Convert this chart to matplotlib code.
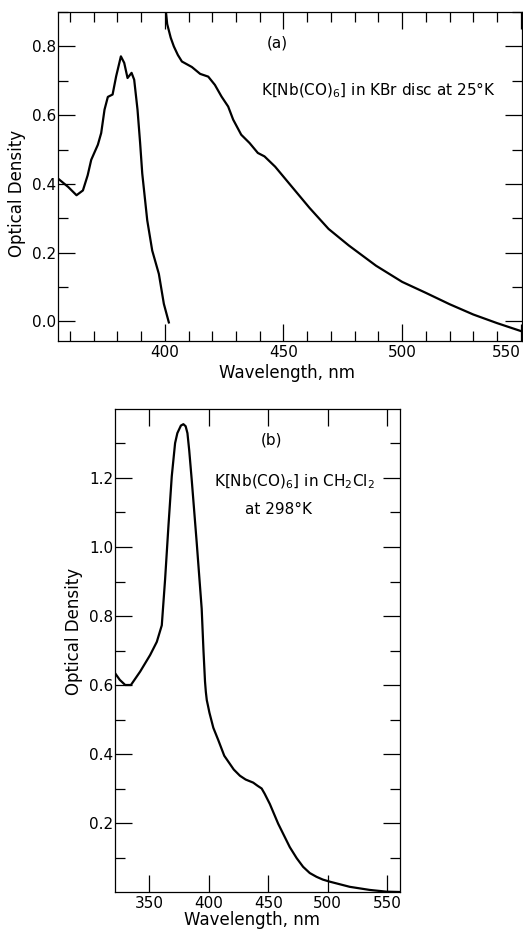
import matplotlib
matplotlib.use("Agg")
import matplotlib.pyplot as plt
from matplotlib.ticker import MultipleLocator, FixedLocator

# ---- data: panel (a) K[Nb(CO)6] in KBr disc at 25 K ----
a1_wavelength = [355.1, 359.3, 362.8, 365.5, 367.5, 369.0, 371.8, 373.2, 374.6, 376.0,
                 378.0, 379.5, 381.5, 382.9, 384.3, 386.0, 387.1, 388.5, 389.6, 390.5,
                 392.6, 394.7, 397.5, 399.6, 401.7]
a1_density = [0.415, 0.391, 0.367, 0.381, 0.425, 0.470, 0.514, 0.548, 0.616, 0.653,
              0.660, 0.713, 0.771, 0.752, 0.708, 0.723, 0.703, 0.616, 0.519, 0.430,
              0.294, 0.206, 0.138, 0.051, -0.003]

a2_wavelength = [399.8, 400.2, 401.0, 402.5, 403.8, 405.5, 407.2, 411.4, 414.9, 418.3,
                 421.1, 423.9, 426.7, 428.8, 432.2, 435.7, 439.2, 442.0, 446.5, 453.5,
                 461.0, 469.0, 477.5, 489.0, 500.0, 510.0, 520.0, 530.0, 540.0, 550.0]
a2_density = [0.950, 0.920, 0.865, 0.825, 0.800, 0.775, 0.756, 0.740, 0.720, 0.712,
              0.688, 0.654, 0.625, 0.587, 0.543, 0.519, 0.490, 0.480, 0.450, 0.392,
              0.330, 0.269, 0.221, 0.162, 0.115, 0.083, 0.050, 0.020, -0.005, -0.028]

# ---- data: panel (b) K[Nb(CO)6] in CH2Cl2 at 298 K ----
b_wavelength = [321.1, 325.0, 329.6, 334.4, 342.2, 350.6, 356.2, 360.4, 363.2, 366.0,
                368.8, 371.6, 373.5, 376.5, 378.6, 380.5, 382.0, 383.5, 385.6, 389.8,
                394.0, 395.5, 396.8, 397.5, 398.3, 399.3, 400.5, 403.8, 408.0, 413.0,
                421.0, 426.2, 431.0, 437.4, 441.0, 444.5, 447.0, 451.4, 458.4, 468.2,
                474.0, 479.4, 485.0, 490.7, 496.0, 501.8, 518.7, 535.5, 549.5, 561.0]
b_density = [0.634, 0.615, 0.600, 0.600, 0.639, 0.687, 0.725, 0.773, 0.907, 1.061,
             1.205, 1.301, 1.330, 1.352, 1.356, 1.350, 1.330, 1.280, 1.195, 1.013,
             0.821, 0.700, 0.610, 0.580, 0.556, 0.540, 0.520, 0.476, 0.440, 0.395,
             0.355, 0.337, 0.326, 0.317, 0.308, 0.300, 0.285, 0.255, 0.198, 0.130,
             0.098, 0.073, 0.055, 0.044, 0.036, 0.030, 0.015, 0.006, 0.001, 0.000]

a_xticks = [400, 450, 500, 550]
a_yticks = [0.0, 0.2, 0.4, 0.6, 0.8]
b_xticks = [350, 400, 450, 500, 550]
b_yticks = [0.2, 0.4, 0.6, 0.8, 1.0, 1.2]

xlabel = "Wavelength, nm"
ylabel = "Optical Density"
a_tag = "(a)"
a_note = r"K[Nb(CO)$_6$] in KBr disc at 25°K"
b_tag = "(b)"
b_note1 = r"K[Nb(CO)$_6$] in CH$_2$Cl$_2$"
b_note2 = "at 298°K"

plt.rcParams['font.family'] = ['DejaVu Sans']
plt.rcParams['mathtext.fontset'] = 'dejavusans'

W, H = 523, 930
fig = plt.figure(figsize=(W / 100, H / 100), dpi=100)
fig.patch.set_facecolor('white')


def box(l, t, r, b):
    return [l / W, 1 - b / H, (r - l) / W, (b - t) / H]


def style(ax):
    for s in ax.spines.values():
        s.set_linewidth(0.9)
        s.set_color('black')
    ax.tick_params(which='both', direction='in', top=True, right=True,
                   labelsize=11, width=0.9, colors='black')
    ax.tick_params(which='major', length=12, pad=3)
    ax.tick_params(which='minor', length=7)


# Panel (a)
ax1 = fig.add_axes(box(58, 12, 522, 341))
ax1.plot(a1_wavelength, a1_density, color='black', lw=1.6)
ax1.plot(a2_wavelength, a2_density, color='black', lw=1.6)
ax1.set_xlim(355, 550.5)
ax1.set_ylim(-0.057, 0.9)
ax1.xaxis.set_major_locator(FixedLocator(a_xticks))
ax1.xaxis.set_minor_locator(MultipleLocator(10))
ax1.yaxis.set_major_locator(FixedLocator(a_yticks))
ax1.yaxis.set_minor_locator(MultipleLocator(0.1))
ax1.set_yticklabels([f"{v:.1f}" for v in a_yticks])
style(ax1)
ax1.tick_params(axis='y', pad=1)
ax1.get_xticklabels()[-1].set_horizontalalignment('right')
ax1.set_xlabel(xlabel, fontsize=12)
ax1.set_ylabel(ylabel, fontsize=12)
ax1.xaxis.set_label_coords(0.494, -0.071)
ax1.yaxis.set_label_coords(-0.070, 0.45)
ax1.text(447.5, 0.81, a_tag, ha='center', va='center', fontsize=11)
ax1.text(490, 0.672, a_note, ha='center', va='center', fontsize=11)

# Panel (b)
ax2 = fig.add_axes(box(115, 409, 400, 892))
ax2.plot(b_wavelength, b_density, color='black', lw=1.6)
ax2.set_xlim(321, 561)
ax2.set_ylim(0.0, 1.4)
ax2.xaxis.set_major_locator(FixedLocator(b_xticks))
ax2.yaxis.set_major_locator(FixedLocator(b_yticks))
ax2.yaxis.set_minor_locator(FixedLocator([0.1, 0.3, 0.5, 0.7, 0.9, 1.1, 1.3]))
ax2.set_yticklabels([f"{v:.1f}" for v in b_yticks])
style(ax2)
ax2.tick_params(axis='y', pad=1)
ax2.set_xlabel(xlabel, fontsize=12)
ax2.set_ylabel(ylabel, fontsize=12)
ax2.xaxis.set_label_coords(0.482, -0.039)
ax2.yaxis.set_label_coords(-0.112, 0.54)
ax2.text(453, 1.31, b_tag, ha='center', va='center', fontsize=11)
ax2.text(472, 1.19, b_note1, ha='center', va='center', fontsize=11)
ax2.text(459, 1.11, b_note2, ha='center', va='center', fontsize=11)

fig.savefig("out.png", dpi=100, facecolor='white')
